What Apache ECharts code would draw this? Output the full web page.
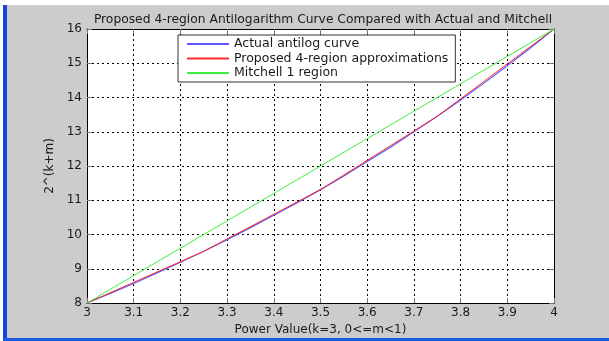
<!DOCTYPE html>
<html>
<head>
<meta charset="utf-8">
<script src="https://cdn.jsdelivr.net/npm/echarts@6/dist/echarts.min.js"></script>
<style>
  html, body { margin: 0; padding: 0; width: 609px; height: 341px; overflow: hidden; background: #ffffff; }
  #frame { position: absolute; left: 0; top: 0; width: 609px; height: 341px; }
  #bg { position: absolute; left: 7px; top: 5px; right: 0; bottom: 3px; background: #cccccc; }
  #lstrip { position: absolute; left: 3px; top: 5px; width: 4px; bottom: 0; background: #1546dc; }
  #bstrip { position: absolute; left: 3px; right: 0; height: 3px; bottom: 0; background: #1c5ae4; }
  #chart { position: absolute; left: 0; top: 0; width: 609px; height: 341px; }
</style>
</head>
<body>
<div id="frame">
  <div id="bg"></div>
  <div id="lstrip"></div>
  <div id="bstrip"></div>
  <div id="chart"></div>
</div>
<script>
// ---- data ----
const titleText = 'Proposed 4-region Antilogarithm Curve Compared with Actual and Mitchell';
const xAxisTitle = 'Power Value(k=3, 0<=m<1)';
const yAxisTitle = '2^(k+m)';
const seriesNames = ['Actual antilog curve', 'Proposed 4-region approximations', 'Mitchell 1 region'];

const actualX = [3.00, 3.05, 3.10, 3.15, 3.20, 3.25, 3.30, 3.35, 3.40, 3.45, 3.50, 3.55, 3.60, 3.65, 3.70, 3.75, 3.80, 3.85, 3.90, 3.95, 4.00];
const actualY = [8.00, 8.28, 8.57, 8.88, 9.19, 9.51, 9.85, 10.20, 10.56, 10.93, 11.31, 11.71, 12.13, 12.55, 13.00, 13.45, 13.93, 14.42, 14.93, 15.45, 16.00];

const proposedX = [3.00, 3.25, 3.50, 3.75, 4.00];
const proposedY = [8.00, 9.51, 11.31, 13.45, 16.00];

const mitchellX = [3.00, 4.00];
const mitchellY = [8.00, 16.00];

const xTicks = [3, 3.1, 3.2, 3.3, 3.4, 3.5, 3.6, 3.7, 3.8, 3.9, 4];
const yTicks = [8, 9, 10, 11, 12, 13, 14, 15, 16];

const colors = ['#5a5aff', '#ff2a2a', '#3cf03c'];
const FONT = 'DejaVu Sans';

function pairs(xs, ys) { return xs.map((x, i) => [x, ys[i]]); }

const chart = echarts.init(document.getElementById('chart'), null, { renderer: 'canvas' });

const gridLine = { show: true, lineStyle: { color: '#000', type: [2, 3], width: 1 } };
const tickStyle = { show: true, inside: true, length: 5, lineStyle: { color: '#777', width: 1 } };
const axisLine = { show: true, onZero: false, lineStyle: { color: '#000', width: 1 } };

const xBase = { type: 'value', min: xTicks[0], max: xTicks[xTicks.length - 1], interval: 0.1 };
const yBase = { type: 'value', min: yTicks[0], max: yTicks[yTicks.length - 1], interval: 1 };

chart.setOption({
  animation: false,
  backgroundColor: 'transparent',
  color: colors,
  title: {
    text: titleText,
    left: 318, top: 9, textAlign: 'center',
    textStyle: { fontFamily: FONT, fontSize: 12.3, fontWeight: 'normal', color: '#1a1a1a' }
  },
  legend: {
    data: seriesNames,
    orient: 'vertical',
    left: 178, top: 35,
    padding: [2, 7, 2, 9],
    itemGap: 0.5,
    itemWidth: 42, itemHeight: 2,
    icon: 'rect',
    backgroundColor: '#ffffff',
    borderColor: '#333',
    borderWidth: 1,
    textStyle: { fontFamily: FONT, fontSize: 12.5, color: '#1a1a1a', lineHeight: 14 }
  },
  grid: { left: 87, top: 29, width: 467, height: 274, show: true, backgroundColor: '#ffffff', borderWidth: 0 },
  xAxis: [
    Object.assign({}, xBase, {
      position: 'bottom',
      axisLine: axisLine,
      axisTick: tickStyle,
      splitLine: gridLine,
      axisLabel: {
        margin: 4, fontFamily: FONT, fontSize: 12, color: '#1a1a1a',
        formatter: v => String(+v.toFixed(1))
      },
      name: xAxisTitle, nameLocation: 'middle', nameGap: 21,
      nameTextStyle: { fontFamily: FONT, fontSize: 12, color: '#1a1a1a' }
    }),
    Object.assign({}, xBase, {
      position: 'top',
      axisLine: axisLine,
      axisTick: tickStyle,
      splitLine: { show: false },
      axisLabel: { show: false }
    })
  ],
  yAxis: [
    Object.assign({}, yBase, {
      position: 'left',
      axisLine: axisLine,
      axisTick: tickStyle,
      splitLine: gridLine,
      axisLabel: { margin: 5, fontFamily: FONT, fontSize: 12, color: '#1a1a1a' },
      name: yAxisTitle, nameLocation: 'middle', nameGap: 30,
      nameTextStyle: { fontFamily: FONT, fontSize: 12, color: '#1a1a1a' }
    }),
    Object.assign({}, yBase, {
      position: 'right',
      axisLine: axisLine,
      axisTick: tickStyle,
      splitLine: { show: false },
      axisLabel: { show: false }
    })
  ],
  series: [
    { name: seriesNames[0], type: 'line', data: pairs(actualX, actualY), showSymbol: false, symbol: 'none',
      lineStyle: { width: 1.2, color: colors[0] }, z: 3 },
    { name: seriesNames[1], type: 'line', data: pairs(proposedX, proposedY), showSymbol: false, symbol: 'none',
      lineStyle: { width: 1, color: colors[1] }, z: 4 },
    { name: seriesNames[2], type: 'line', data: pairs(mitchellX, mitchellY), showSymbol: false, symbol: 'none',
      lineStyle: { width: 1, color: colors[2] }, z: 5 }
  ]
});
</script>
</body>
</html>
